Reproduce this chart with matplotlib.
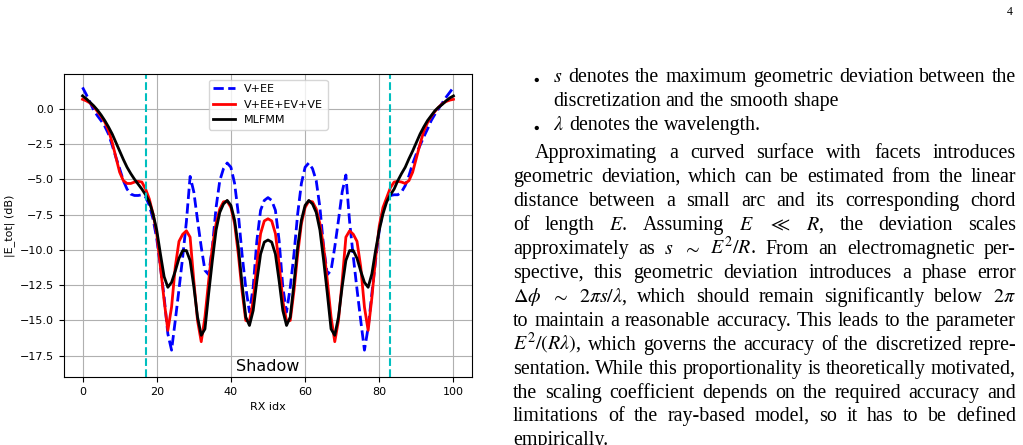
#!/usr/bin/env python

import numpy as np

import matplotlib as mpl
mpl.use('Agg')
import matplotlib.pyplot as plt
from matplotlib.transforms import IdentityTransform


W, H = 1023, 445

rx_idx = np.arange(101)

e_v_ee = [
    1.5, 1.0, 0.45, -0.1, -0.5, -0.85, -1.25, -1.8, -2.6, -3.45,
    -4.25, -5.1, -5.7, -6.05, -6.15, -6.15, -6.1, -6.25, -6.85, -7.8,
    -9.2, -11.2, -13.35, -15.95, -17.1, -15.0, -12.8, -10.5, -8.0, -4.8,
    -5.9, -7.9, -9.8, -11.45, -11.75, -9.8, -7.0, -5.1, -4.25, -3.85,
    -4.15, -5.3, -7.45, -10.3, -12.65, -14.4, -12.65, -9.35, -7.2, -6.5,
    -6.3, -6.5, -7.2, -9.35, -12.65, -14.4, -12.65, -10.3, -7.45, -5.3,
    -4.15, -3.85, -4.25, -5.1, -7.0, -9.8, -11.75, -11.45, -9.8, -7.9,
    -5.9, -4.7, -8.0, -10.5, -12.8, -15.0, -17.1, -15.5, -13.1, -10.75,
    -8.6, -7.2, -6.5, -6.15, -6.1, -6.1, -5.9, -5.45, -4.75, -3.9,
    -3.2, -2.6, -2.0, -1.45, -0.85, -0.4, 0.0, 0.4, 0.8, 1.15,
    1.5,
]

e_v_ee_ev_ve = [
    0.66, 0.55, 0.4, 0.15, -0.2, -0.55, -0.95, -1.55, -2.4, -3.45,
    -4.5, -5.1, -5.3, -5.3, -5.2, -5.15, -5.2, -5.7, -6.4, -7.45,
    -8.85, -11.2, -13.6, -15.7, -14.05, -11.2, -9.4, -8.9, -8.65, -9.1,
    -12.2, -15.0, -16.5, -14.75, -12.2, -9.8, -8.15, -7.1, -6.6, -6.55,
    -7.0, -8.15, -10.3, -12.9, -15.0, -15.05, -13.6, -11.0, -8.85, -7.95,
    -7.8, -7.95, -8.85, -11.0, -13.6, -15.05, -15.0, -12.9, -10.3, -8.15,
    -7.0, -6.55, -6.6, -7.1, -8.15, -9.8, -12.2, -14.75, -16.5, -15.0,
    -12.2, -9.1, -8.65, -8.9, -9.4, -11.2, -14.05, -15.7, -13.4, -10.6,
    -8.3, -7.0, -6.3, -5.6, -5.2, -5.15, -5.2, -5.3, -5.1, -4.5,
    -3.5, -2.5, -1.6, -1.0, -0.55, -0.2, 0.1, 0.35, 0.5, 0.6,
    0.66,
]

e_mlfmm = [
    0.9, 0.7, 0.45, 0.2, -0.1, -0.45, -0.85, -1.3, -1.8, -2.4,
    -3.0, -3.6, -4.15, -4.6, -5.0, -5.35, -5.7, -6.1, -6.6, -7.45,
    -8.6, -10.3, -11.9, -12.65, -12.3, -11.5, -10.6, -10.05, -10.05, -10.75,
    -12.6, -14.75, -16.05, -15.6, -13.1, -10.75, -8.6, -7.35, -6.75, -6.5,
    -6.85, -7.9, -9.8, -12.4, -14.75, -15.35, -14.3, -12.2, -10.3, -9.45,
    -9.3, -9.45, -10.3, -12.2, -14.3, -15.35, -14.75, -12.4, -9.8, -7.9,
    -6.85, -6.5, -6.75, -7.35, -8.6, -10.75, -13.1, -15.6, -16.05, -14.75,
    -12.6, -10.75, -10.05, -10.05, -10.6, -11.5, -12.3, -12.65, -11.7, -10.05,
    -8.6, -7.45, -6.6, -6.1, -5.7, -5.1, -4.6, -4.15, -3.55, -3.0,
    -2.4, -1.8, -1.3, -0.85, -0.5, -0.15, 0.1, 0.3, 0.55, 0.75,
    0.9,
]

shadow_bounds = [17, 83]

# text column, one entry per printed line: (kind, text, justified)
body_lines = [
    ('item', r'$s$ denotes the maximum geometric deviation between the', True),
    ('cont', r'discretization and the smooth shape', False),
    ('item', r'$\lambda$ denotes the wavelength.', False),
    ('par', r'Approximating a curved surface with facets introduces', True),
    ('line', r'geometric deviation, which can be estimated from the linear', True),
    ('line', r'distance between a small arc and its corresponding chord', True),
    ('line', r'of length $E$. Assuming $E$ $\ll$ $R$, the deviation scales', True),
    ('line', r'approximately as $s$ $\sim$ $E^2/R$. From an electromagnetic per-', True),
    ('line', r'spective, this geometric deviation introduces a phase error', True),
    ('line', r'$\Delta\phi$ $\sim$ $2\pi{s}/\lambda$, which should remain significantly below $2\pi$', True),
    ('line', r'to maintain a reasonable accuracy. This leads to the parameter', True),
    ('line', r'$E^2/(R\lambda)$, which governs the accuracy of the discretized repre-', True),
    ('line', r'sentation. While this proportionality is theoretically motivated,', True),
    ('line', r'the scaling coefficient depends on the required accuracy and', True),
    ('line', r'limitations of the ray-based model, so it has to be defined', True),
    ('line', r'empirically.', False),
]


def plot_chart(fig):
    ax = fig.add_axes([64 / W, 1 - 377 / H, (472 - 64) / W, (377 - 74) / H])
    ax.plot(rx_idx, e_v_ee, 'b--', lw=2, label='V+EE')
    ax.plot(rx_idx, e_v_ee_ev_ve, 'r-', lw=2, label='V+EE+EV+VE')
    ax.plot(rx_idx, e_mlfmm, 'k-', lw=2, label='MLFMM')
    for xb in shadow_bounds:
        ax.axvline(xb, color='c', linestyle='--', lw=1.5)
    ax.text(50, -18.25, 'Shadow', ha='center', va='center', fontsize=11.5)

    ax.set_xlim(-5, 105)
    ax.set_ylim(-19.0, 2.45)
    ax.set_yticks(np.arange(0, -18, -2.5))
    ax.grid(True)
    ax.tick_params(labelsize=8)
    ax.set_xlabel('RX idx', fontsize=8)
    ax.set_ylabel('|E_tot| (dB)', fontsize=8)
    ax.legend(loc='upper center', fontsize=8)
    return ax


def draw_words(fig, renderer, text, x0, x1, y, justify, size):
    words = text.split(' ')
    kw = dict(transform=IdentityTransform(), va='baseline', ha='left',
              fontsize=size, family='Liberation Serif')
    items = [fig.text(0, 0, w, **kw) for w in words]
    widths = [t.get_window_extent(renderer).width for t in items]
    if justify and len(words) > 1:
        gap = (x1 - x0 - sum(widths)) / (len(words) - 1)
    else:
        gap = 0.25 * size * 100 / 72
    x = x0
    for t, w in zip(items, widths):
        t.set_position((x, H - y))
        x += w + gap


def plot_text(fig):
    renderer = fig.canvas.get_renderer()
    size = 14.4
    x_left, x_right = 513, 1016
    x_item, x_bullet, x_par = 553, 533, 535
    xh = 4.5  # half x-height, centre -> baseline

    for i, (kind, text, justify) in enumerate(body_lines):
        if i < 3:
            yc = 78 + 24 * i
        else:
            yc = 154 + 23.9 * (i - 3)
        base = round(yc + xh)
        if kind == 'item':
            fig.text(x_bullet, H - yc, r'$\bullet$',
                     transform=IdentityTransform(), va='center',
                     fontsize=size * 0.8)
            x0 = x_item
        elif kind == 'cont':
            x0 = x_item
        elif kind == 'par':
            x0 = x_par
        else:
            x0 = x_left
        draw_words(fig, renderer, text, x0, x_right, base, justify, size)

    fig.text(1010, H - 12, '4', transform=IdentityTransform(),
             ha='center', va='center', fontsize=8.5, family='Liberation Serif')


if __name__ == '__main__':
    mpl.rcParams['mathtext.fontset'] = 'stix'
    fig = plt.figure(figsize=(W / 100, H / 100), dpi=100)
    plot_chart(fig)
    plot_text(fig)
    fig.savefig('out.png', dpi=100)
